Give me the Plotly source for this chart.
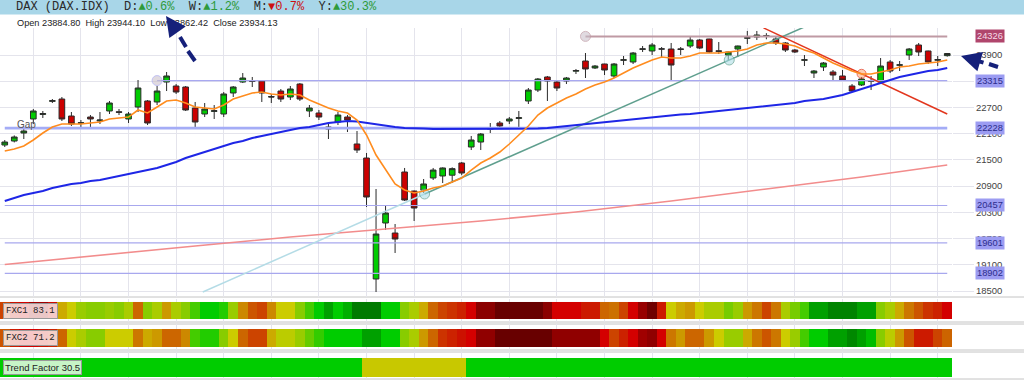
import plotly.graph_objects as go

W, H = 1024, 382


def PX(x):
    return x / W


def PY(y):
    return 1 - y / H


# ------------------------------------------------------------------ data
idx = list(range(100))

opens = [21841, 21932, 22115, 22436, 22540, 22840, 22893, 22504, 22340, 22481,
         22390, 22619, 22600, 22436, 22710, 22848, 22825, 23282, 23191, 23168,
         22687, 22550, 22610, 22550, 23031, 23282, 23310, 23305, 22950, 23076,
         22939, 23236, 22619, 22573, 22253, 22367, 22481, 21864, 21543, 18775,
         20056, 19827, 21223, 20788, 20811, 21086, 21132, 21150, 21429, 21795,
         21909, 22200, 22344, 22390, 22450, 22848, 23099, 23397, 23282, 23305,
         23530, 23763, 23603, 23694, 23420, 23780, 23740, 24030, 23992, 24035,
         24037, 24040, 24106, 24243, 24266, 23995, 23900, 24037, 24285, 24312,
         24330, 24266, 24175, 24014, 23780, 23488, 23625, 23511, 23420, 23191,
         23214, 23300, 23282, 23740, 23665, 23900, 24129, 23992, 23780, 23884.80]
highs = [21955, 22060, 22207, 22664, 22619, 22893, 22939, 22596, 22413, 22527,
         22596, 22848, 22664, 22596, 23328, 22870, 23191, 23511, 23236, 23191,
         22825, 22802, 22756, 23053, 23191, 23488, 23397, 23328, 23008, 23122,
         23191, 23259, 22756, 22642, 22344, 22596, 22527, 22161, 21658, 20834,
         20468, 20033, 21315, 20800, 21063, 21315, 21330, 21330, 21452, 22047,
         22115, 22344, 22390, 22481, 22619, 23145, 23374, 23420, 23328, 23397,
         23580, 23946, 23671, 23700, 23717, 23877, 23969, 24106, 24175, 24083,
         24175, 24083, 24312, 24266, 24270, 24197, 23980, 24115, 24450, 24450,
         24400, 24312, 24197, 24037, 23900, 23557, 23740, 23557, 23557, 23236,
         23397, 23420, 23831, 23786, 23763, 24060, 24175, 24000, 23877, 23944.10]
lows = [21795, 21900, 21978, 22321, 22459, 22802, 22390, 22276, 22253, 22253,
        22321, 22550, 22527, 22344, 22596, 22298, 22756, 23076, 23008, 22619,
        22253, 22481, 22436, 22481, 22939, 23259, 23168, 22825, 22802, 22825,
        22870, 22848, 22481, 22413, 21978, 22298, 22138, 21658, 20422, 18477,
        19896, 19370, 20560, 20102, 20742, 21040, 20971, 20971, 21150, 21726,
        21726, 22115, 22230, 22321, 22253, 22779, 23053, 22848, 23076, 23236,
        23465, 23374, 23580, 23442, 23374, 23671, 23694, 23969, 23900, 23854,
        23305, 23900, 24060, 24037, 23946, 23923, 23786, 23854, 24152, 24243,
        24260, 24129, 23969, 23946, 23648, 23374, 23534, 23328, 23305, 23053,
        23191, 23099, 23259, 23488, 23534, 23786, 23877, 23694, 23648, 23862.42]
closes = [21909, 22024, 22161, 22619, 22560, 22855, 22436, 22321, 22350, 22436,
          22413, 22802, 22590, 22550, 23145, 22344, 23076, 23420, 23053, 22642,
          22367, 22664, 22625, 23008, 23168, 23374, 23300, 23031, 22940, 22893,
          23122, 22893, 22687, 22481, 22207, 22527, 22413, 21726, 20651, 19804,
          20285, 19690, 20582, 20399, 20949, 21268, 21315, 21300, 21200, 21955,
          22092, 22215, 22276, 22436, 22465, 23099, 23351, 23305, 23145, 23374,
          23545, 23580, 23648, 23557, 23694, 23790, 23946, 24040, 24129, 24040,
          23671, 24030, 24243, 24060, 23969, 23985, 23969, 24106, 24295, 24358,
          24340, 24175, 24014, 23969, 23790, 23534, 23717, 23442, 23328, 23076,
          23351, 23310, 23648, 23534, 23675, 24037, 23969, 23740, 23795, 23934.13]

# short moving average (orange), read per candle
ma_fast = [21704, 21749, 21818, 21955, 22115, 22253, 22321, 22321, 22321, 22344,
           22367, 22436, 22459, 22481, 22642, 22573, 22710, 22848, 22870, 22802,
           22710, 22687, 22664, 22756, 22893, 22962, 23031, 23053, 23008, 22985,
           23008, 22985, 22870, 22779, 22687, 22619, 22573, 22413, 22070, 21612,
           21268, 20949, 20811, 20742, 20788, 20857, 20903, 20994, 21086, 21268,
           21429, 21543, 21681, 21864, 22070, 22276, 22527, 22687, 22802, 22916,
           23008, 23122, 23214, 23282, 23374, 23488, 23603, 23694, 23786, 23854,
           23831, 23831, 23877, 23946, 23946, 23946, 23969, 23992, 24037, 24129,
           24175, 24175, 24152, 24106, 24014, 23946, 23831, 23717, 23625, 23534,
           23465, 23465, 23511, 23557, 23625, 23648, 23694, 23717, 23740, 23786]

# medium moving average (blue), read per candle
ma_mid = [20560, 20628, 20697, 20743, 20788, 20857, 20903, 20949, 20971, 21017,
          21040, 21086, 21132, 21177, 21223, 21269, 21315, 21383, 21452, 21543,
          21612, 21681, 21749, 21818, 21887, 21932, 22001, 22047, 22092, 22138,
          22184, 22230, 22253, 22298, 22344, 22367, 22390, 22379, 22344, 22321,
          22276, 22253, 22230, 22230, 22218, 22207, 22207, 22207, 22207, 22207,
          22207, 22207, 22207, 22207, 22207, 22207, 22218, 22230, 22253, 22276,
          22298, 22321, 22344, 22367, 22390, 22413, 22436, 22459, 22481, 22504,
          22527, 22539, 22550, 22573, 22596, 22619, 22642, 22664, 22687, 22710,
          22733, 22756, 22779, 22802, 22848, 22870, 22893, 22939, 22985, 23053,
          23122, 23191, 23259, 23328, 23397, 23442, 23488, 23534, 23557, 23603]

# long moving average (pink), read every 10 candles
ma_long_idx = [0, 10, 20, 30, 40, 50, 60, 70, 80, 90, 99]
ma_long = [19107, 19324, 19530, 19736, 19919, 20102, 20308, 20560, 20834, 21109, 21383]

# horizontal levels and the candle where each starts
level_values = [24326, 23315, 22228, 20457, 19601, 18902]
level_starts = [61, 16, 0, 0, 0, 0]

# trend lines (candle index, price)
tl_light_idx = [20.8, 44.1]
tl_light_px = [18477, 20720]
tl_up_idx = [44.1, 76.1, 84.5]
tl_up_px = [20720, 23786, 24590]
tl_down_idx = [79.7, 90, 99]
tl_down_px = [24520, 23470, 22550]

price_ticks = [18500, 19100, 19700, 20300, 20900, 21500, 22100, 22700, 23300, 23900]
grid_idx = [3, 8, 13, 18, 23, 28, 33, 38, 43, 48, 53, 58, 63, 68, 73, 78, 83, 88, 93, 98]

fxc1 = [75, 81, 83, 88, 88, 82, 60, 56, 47, 44,
        44, 47, 44, 50, 71, 44, 50, 63, 50, 44,
        34, 24, 24, 30, 47, 66, 73, 75, 66, 56,
        56, 44, 34, 24, 18, 24, 20, 8, 8, 8,
        24, 24, 44, 50, 60, 71, 75, 77, 79, 83,
        95, 95, 99, 99, 99, 99, 99, 95, 83, 83,
        83, 80, 80, 71, 69, 75, 83, 90, 98, 80,
        56, 60, 63, 56, 50, 50, 40, 47, 63, 68,
        75, 68, 50, 40, 34, 18, 18, 12, 12, 12,
        18, 18, 44, 50, 60, 68, 73, 77, 79, 83.1]
fxc2 = [73, 80, 83, 83, 81, 79, 71, 56, 50, 44,
        44, 56, 56, 56, 68, 60, 63, 71, 71, 66,
        34, 30, 30, 44, 56, 71, 75, 75, 60, 53,
        53, 47, 38, 32, 24, 24, 24, 24, 18, 18,
        24, 24, 44, 50, 63, 71, 77, 79, 81, 83,
        92, 92, 99, 99, 99, 99, 99, 99, 92, 92,
        92, 92, 92, 83, 75, 79, 83, 88, 92, 83,
        68, 63, 71, 71, 63, 56, 47, 47, 60, 68,
        73, 68, 56, 47, 34, 24, 24, 18, 18, 14,
        18, 22, 44, 53, 63, 73, 80, 80, 75, 71.2]
trend_state = [1, 1, 1, 1, 1, 1, 1, 1, 1, 1,
               1, 1, 1, 1, 1, 1, 1, 1, 1, 1,
               1, 1, 1, 1, 1, 1, 1, 1, 1, 1,
               1, 1, 1, 1, 1, 1, 1, 1, 0, 0,
               0, 0, 0, 0, 0, 0, 0, 0, 0, 1,
               1, 1, 1, 1, 1, 1, 1, 1, 1, 1,
               1, 1, 1, 1, 1, 1, 1, 1, 1, 1,
               1, 1, 1, 1, 1, 1, 1, 1, 1, 1,
               1, 1, 1, 1, 1, 1, 1, 1, 1, 1,
               1, 1, 1, 1, 1, 1, 1, 1, 1, 1]

# ------------------------------------------------------------------ styles
SANS = "Liberation Sans, Arial, sans-serif"
MONO = "Liberation Mono, Courier New, monospace"
NAVY = "#15207a"
GRID = "#e4e4ec"

fxc_stops = [(0, '#005a00'), (8, '#007a00'), (14, '#008800'), (18, '#00a000'), (24, '#00cc00'),
             (30, '#22cc00'), (34, '#44cc00'), (40, '#77cc00'), (44, '#88cc00'), (47, '#99cc00'),
             (50, '#aacc00'), (53, '#bbcc00'), (56, '#cccc00'), (60, '#ccaa00'), (63, '#cc9900'),
             (66, '#cc8800'), (68, '#cc7700'), (71, '#cc6600'), (73, '#cc5500'), (75, '#cc4400'),
             (77, '#cc3300'), (79, '#cc2200'), (81, '#cc1100'), (83, '#d40000'), (88, '#a00000'),
             (92, '#900000'), (95, '#8b0000'), (98, '#700000'), (100, '#600000')]
fxc_scale = [[v / 100, c] for v, c in fxc_stops]

level_line_colors = ['#bf9aa4', '#a8a8f0', '#a4acf6', '#a8a8ee', '#a8a8ee', '#a8a8ee']
level_line_widths = [2, 1.2, 2.6, 1.2, 1.2, 1.2]
level_label_bg = ['#b0456c', '#9c9cf2', '#9c9cf2', '#9c9cf2', '#9c9cf2', '#9c9cf2']
level_label_fg = ['#f6dce6', '#2c2c8c', '#2c2c8c', '#2c2c8c', '#2c2c8c', '#2c2c8c']

fig = go.Figure()

# ---- indicator panels
fig.add_trace(go.Heatmap(z=[fxc1], x=idx, y=[0], colorscale=fxc_scale, zmin=0, zmax=100,
                         showscale=False, xaxis='x2', yaxis='y2', hoverinfo='skip'))
fig.add_trace(go.Heatmap(z=[fxc2], x=idx, y=[0], colorscale=fxc_scale, zmin=0, zmax=100,
                         showscale=False, xaxis='x3', yaxis='y3', hoverinfo='skip'))
fig.add_trace(go.Heatmap(z=[trend_state], x=idx, y=[0],
                         colorscale=[[0, '#c8c800'], [1, '#00cc00']], zmin=0, zmax=1,
                         showscale=False, xaxis='x4', yaxis='y4', hoverinfo='skip'))

# ---- level lines
for i, lv in enumerate(level_values):
    s = level_starts[i]
    msize = [10, 0] if s > 0 else [0, 0]
    fig.add_trace(go.Scatter(x=[s, 99], y=[lv, lv], mode='lines+markers',
                             line=dict(color=level_line_colors[i], width=level_line_widths[i]),
                             marker=dict(size=msize, color='rgba(200,190,200,0.8)'),
                             showlegend=False, hoverinfo='skip'))

# ---- long MA
fig.add_trace(go.Scatter(x=ma_long_idx, y=ma_long, mode='lines',
                         line=dict(color='#f28c8c', width=1.6), showlegend=False, hoverinfo='skip'))

# ---- trend lines
fig.add_trace(go.Scatter(x=tl_light_idx, y=tl_light_px, mode='lines',
                         line=dict(color='#b4dce6', width=1.5), showlegend=False, hoverinfo='skip'))
fig.add_trace(go.Scatter(x=tl_up_idx, y=tl_up_px, mode='lines+markers',
                         line=dict(color='#5f9f8e', width=1.5),
                         marker=dict(size=[10, 10, 0], color='rgba(170,220,230,0.8)'),
                         showlegend=False, hoverinfo='skip'))
fig.add_trace(go.Scatter(x=tl_down_idx, y=tl_down_px, mode='lines+markers',
                         line=dict(color='#e2361e', width=1.5),
                         marker=dict(size=[0, 9, 0], color='rgba(250,170,120,0.8)'),
                         showlegend=False, hoverinfo='skip'))

# ---- candles
fig.add_trace(go.Candlestick(x=idx, open=opens, high=highs, low=lows, close=closes,
                             increasing=dict(fillcolor='#00cc00', line=dict(color='#2a2a2a', width=1)),
                             decreasing=dict(fillcolor='#cc0000', line=dict(color='#2a2a2a', width=1)),
                             whiskerwidth=0, showlegend=False, hoverinfo='skip'))

# ---- moving averages on top
fig.add_trace(go.Scatter(x=idx, y=ma_mid, mode='lines', line=dict(color='#1e26e6', width=2),
                         showlegend=False, hoverinfo='skip'))
fig.add_trace(go.Scatter(x=idx, y=ma_fast, mode='lines', line=dict(color='#ff8c1e', width=1.6),
                         showlegend=False, hoverinfo='skip'))

# ------------------------------------------------------------------ layout
xcommon = dict(range=[-0.5, 99.5], domain=[0, PX(952)], tickvals=grid_idx, showticklabels=False,
               showgrid=True, gridcolor=GRID, gridwidth=1, zeroline=False, ticks='', fixedrange=True)

shapes = [
    dict(type='rect', xref='paper', yref='paper', x0=0, x1=1, y0=PY(14.5), y1=1,
         fillcolor='#a8d6e8', line=dict(width=0), layer='below'),
]
for yy in [297, 322, 324, 350, 352, 379]:
    shapes.append(dict(type='line', xref='paper', yref='paper', x0=0, x1=1, y0=PY(yy), y1=PY(yy),
                       line=dict(color='#c4c4c4', width=1), layer='below'))
# dashed tails of the two arrows
for (x0, y0, x1, y1) in [(180, 37, 186, 47), (188, 51, 195, 61), (989, 64, 998, 67)]:
    shapes.append(dict(type='line', xref='paper', yref='paper', x0=PX(x0), y0=PY(y0), x1=PX(x1), y1=PY(y1),
                       line=dict(color=NAVY, width=4), layer='above'))

G = '#2e9a3a'
R = '#cc1010'
nb = '\u00a0'
header = ("DAX" + nb + "(DAX.IDX)" + nb * 2 + "D:<span style='color:%s'>▲0.6%%</span>" % G + nb * 2 +
          "W:<span style='color:%s'>▲1.2%%</span>" % G + nb * 2 +
          "M:<span style='color:%s'>▼0.7%%</span>" % R + nb * 2 +
          "Y:<span style='color:%s'>▲30.3%%</span>" % G)
ohlc = nb.join(["Open", "23884.80", "", "High", "23944.10", "", "Low", "23862.42", "", "Close", "23934.13"])

annotations = [
    dict(xref='paper', yref='paper', x=PX(14), y=PY(7), xanchor='left', yanchor='middle',
         text=header, showarrow=False, font=dict(family=MONO, size=12, color='#2b2b2b')),
    dict(xref='paper', yref='paper', x=PX(15), y=PY(22.5), xanchor='left', yanchor='middle',
         text=ohlc, showarrow=False, font=dict(family=SANS, size=9.2, color='#222')),
    dict(xref='x', yref='y', x=1.08, y=22320, xanchor='left', yanchor='middle', text='Gap',
         showarrow=False, font=dict(family=SANS, size=10, color='#555')),
]
for i, lv in enumerate(level_values):
    annotations.append(dict(xref='paper', yref='y', x=PX(990), y=lv, xanchor='center', yanchor='middle',
                            text=str(lv), showarrow=False, bgcolor=level_label_bg[i], borderpad=1,
                            font=dict(family=SANS, size=9.3, color=level_label_fg[i])))
annotations += [
    dict(xref='paper', yref='paper', x=PX(3), y=PY(310.5), xanchor='left', yanchor='middle',
         text='FXC1' + nb + '83.1', showarrow=False, bgcolor='rgba(255,255,255,0.78)',
         bordercolor='#999', borderwidth=1, borderpad=2, font=dict(family=MONO, size=9, color='#222')),
    dict(xref='paper', yref='paper', x=PX(3), y=PY(338), xanchor='left', yanchor='middle',
         text='FXC2' + nb + '71.2', showarrow=False, bgcolor='rgba(255,255,255,0.78)',
         bordercolor='#999', borderwidth=1, borderpad=2, font=dict(family=MONO, size=9, color='#222')),
    dict(xref='paper', yref='paper', x=PX(3), y=PY(367.5), xanchor='left', yanchor='middle',
         text='Trend' + nb + 'Factor' + nb + '30.5', showarrow=False, bgcolor='rgba(255,255,255,0.78)',
         bordercolor='#999', borderwidth=1, borderpad=1, font=dict(family=SANS, size=9.5, color='#222')),
    # arrow heads
    dict(xref='paper', yref='paper', x=PX(166), y=PY(16), ax=12, ay=17, text='', showarrow=True,
         arrowhead=2, arrowsize=1, arrowwidth=4, arrowcolor=NAVY, standoff=0),
    dict(xref='paper', yref='paper', x=PX(961), y=PY(56), ax=24, ay=7, text='', showarrow=True,
         arrowhead=2, arrowsize=1, arrowwidth=4, arrowcolor=NAVY, standoff=0),
]

fig.update_layout(
    width=W, height=H, autosize=False,
    margin=dict(l=0, r=0, t=0, b=0),
    paper_bgcolor='white', plot_bgcolor='white',
    showlegend=False, boxgap=0.15,
    xaxis=dict(**xcommon, anchor='y', rangeslider=dict(visible=False)),
    yaxis=dict(domain=[PY(297), PY(28)], range=[18363, 24518], side='right', anchor='x',
               tickvals=price_ticks, tickformat='d', ticks='outside', ticklen=21, tickcolor=GRID,
               gridcolor=GRID, showgrid=True, zeroline=False, showline=False, fixedrange=True,
               tickfont=dict(family=SANS, size=9.5, color='#444')),
    xaxis2=dict(**xcommon, anchor='y2', matches='x'),
    yaxis2=dict(domain=[PY(322), PY(299)], range=[-0.676, 0.676], visible=False, fixedrange=True),
    xaxis3=dict(**xcommon, anchor='y3', matches='x'),
    yaxis3=dict(domain=[PY(350), PY(324)], range=[-0.667, 0.778], visible=False, fixedrange=True),
    xaxis4=dict(**xcommon, anchor='y4', matches='x'),
    yaxis4=dict(domain=[PY(379), PY(352)], range=[-0.605, 0.816], visible=False, fixedrange=True),
    shapes=shapes,
    annotations=annotations,
)

fig.write_html("out.html")
